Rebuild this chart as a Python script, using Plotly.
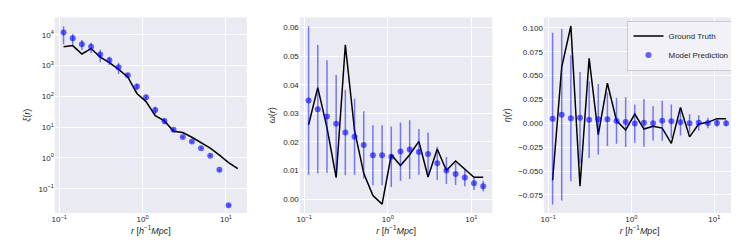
import plotly.graph_objects as go

r = [0.113, 0.1455, 0.1875, 0.2415, 0.311, 0.4006, 0.516, 0.6646, 0.856, 1.1026,
     1.42, 1.829, 2.356, 3.034, 3.908, 5.03, 6.48, 8.35, 10.75, 13.85]

xi_true = [4100, 4500, 2400, 3600, 1900, 1250, 760, 430, 125, 68,
           23.6, 16, 7.4, 6.7, 4.7, 3.2, 2.1, 1.23, 0.71, 0.45]
xi_pred = [12000, 7800, 5000, 4100, 2300, 1500, 890, 490, 210, 94,
           36, 16, 8.3, 4.8, 3.4, 2.07, 1.19, 0.41, 0.029, None]
xi_err = [7000, 3000, 1800, 1500, 1000, 450, 350, 90, 50, 17,
          10, 3.5, 1.0, 0.4, 0.3, 0.1, 0.1, 0.03, 0.003, 0]

om_true = [0.026, 0.039, 0.025, 0.0075, 0.054, 0.024, 0.009, 0.0012, -0.0018, 0.0155,
           0.0117, 0.0155, 0.0202, 0.0077, 0.0175, 0.0100, 0.0133, 0.0105, 0.0076, 0.0076]
om_pred = [0.0345, 0.0314, 0.0289, 0.0264, 0.0233, 0.0218, 0.0189, 0.0153, 0.0153, 0.0148,
           0.0166, 0.0173, 0.0165, 0.0158, 0.0125, 0.0100, 0.0088, 0.0075, 0.0055, 0.0045]
om_err = [0.026, 0.0225, 0.0197, 0.017, 0.015, 0.0133, 0.0118, 0.0105, 0.0105, 0.0106,
          0.0102, 0.0103, 0.008, 0.0075, 0.0058, 0.0047, 0.0039, 0.003, 0.0023, 0.0019]

eta_true = [-0.0597, 0.059, 0.102, -0.066, 0.068, -0.012, 0.042, 0.0028, -0.007, 0.0097,
            -0.006, -0.003, -0.005, -0.021, 0.0167, -0.0142, -0.0007, 0.001, 0.0049, 0.0049]
eta_pred = [0.0049, 0.009, 0.0052, 0.0057, 0.0037, 0.0043, 0.0043, 0.0025, 0.0013, -0.0003,
            0.0005, 0.0001, 0.0026, 0.0022, 0.0011, 0.0, 0.0005, 0.0003, 0.0003, 0.0]
eta_err = [0.09, 0.09, 0.066, 0.048, 0.04, 0.037, 0.028, 0.024, 0.026, 0.02,
           0.025, 0.018, 0.021, 0.0175, 0.014, 0.0095, 0.008, 0.0055, 0.004, 0.003]

x_tickvals = [0.1, 1, 10]
x_ticktext = ["10<sup>−1</sup>", "10<sup>0</sup>", "10<sup>1</sup>"]
xi_tickvals = [0.1, 1, 10, 100, 1000, 10000]
xi_ticktext = ["10<sup>−1</sup>", "10<sup>0</sup>", "10<sup>1</sup>", "10<sup>2</sup>",
               "10<sup>3</sup>", "10<sup>4</sup>"]

LINE = dict(color="black", width=1.5)
MARK = dict(color="rgba(0,0,255,0.6)", size=6)
ERRC = "rgba(0,0,255,0.5)"

fig = go.Figure()
panels = [(xi_true, xi_pred, xi_err), (om_true, om_pred, om_err), (eta_true, eta_pred, eta_err)]
for i, (yt, yp, ye) in enumerate(panels):
    xa = "x" if i == 0 else f"x{i+1}"
    ya = "y" if i == 0 else f"y{i+1}"
    fig.add_trace(go.Scatter(x=r, y=yt, mode="lines", line=LINE, name="Ground Truth",
                             showlegend=(i == 2), xaxis=xa, yaxis=ya))
    fig.add_trace(go.Scatter(x=r, y=yp, mode="markers", marker=MARK, name="Model Prediction",
                             error_y=dict(type="data", array=ye, visible=True, color=ERRC,
                                          thickness=1.5, width=0),
                             showlegend=(i == 2), xaxis=xa, yaxis=ya))

FONT = "Liberation Sans, Arial, sans-serif"
tickfont = dict(family=FONT, size=8, color="#262626")
titlefont = dict(family=FONT, size=9, color="#262626")
xtitle = "<i>r</i> [<i>h</i><sup>−1</sup><i>Mpc</i>]"

common = dict(showgrid=True, gridcolor="white", gridwidth=1, zeroline=False,
              showline=False, ticks="", tickfont=tickfont)

x_domains = [[0.0595, 0.3205], [0.3924, 0.654], [0.724, 0.984]]
y_domain = [0.170, 0.962]
xrange = [-1.052, 1.251]

layout = dict(
    width=739, height=247,
    margin=dict(l=0, r=0, t=0, b=0),
    paper_bgcolor="white", plot_bgcolor="#EAEAF2",
    font=dict(family=FONT, color="#262626"),
    legend=dict(x=0.983, y=0.949, xanchor="right", yanchor="top",
                bgcolor="rgba(242,242,247,0.9)", bordercolor="#CCCCCC", borderwidth=1,
                font=dict(family=FONT, size=8, color="#262626"),
                itemwidth=30, tracegroupgap=0),
)
for i in range(3):
    xk = "xaxis" if i == 0 else f"xaxis{i+1}"
    anchor_y = "y" if i == 0 else f"y{i+1}"
    layout[xk] = dict(common, type="log", domain=x_domains[i], range=xrange, anchor=anchor_y,
                      tickvals=x_tickvals, ticktext=x_ticktext,
                      title=dict(text=xtitle, font=titlefont, standoff=4))
layout["yaxis"] = dict(common, type="log", domain=y_domain, anchor="x", range=[-1.79, 4.57],
                       tickvals=xi_tickvals, ticktext=xi_ticktext,
                       title=dict(text="<i>ξ</i>(<i>r</i>)", font=titlefont, standoff=6))
layout["yaxis2"] = dict(common, domain=y_domain, anchor="x2", range=[-0.0049, 0.0636],
                        tickvals=[0, 0.01, 0.02, 0.03, 0.04, 0.05, 0.06], tickformat=".2f",
                        title=dict(text="<i>ω</i>(<i>r</i>)", font=titlefont, standoff=6))
layout["yaxis3"] = dict(common, domain=y_domain, anchor="x3", range=[-0.094, 0.111],
                        tickvals=[-0.075, -0.05, -0.025, 0, 0.025, 0.05, 0.075, 0.1],
                        tickformat=".3f",
                        title=dict(text="<i>η</i>(<i>r</i>)", font=titlefont, standoff=6))
fig.update_layout(layout)
fig.write_html("out.html")
